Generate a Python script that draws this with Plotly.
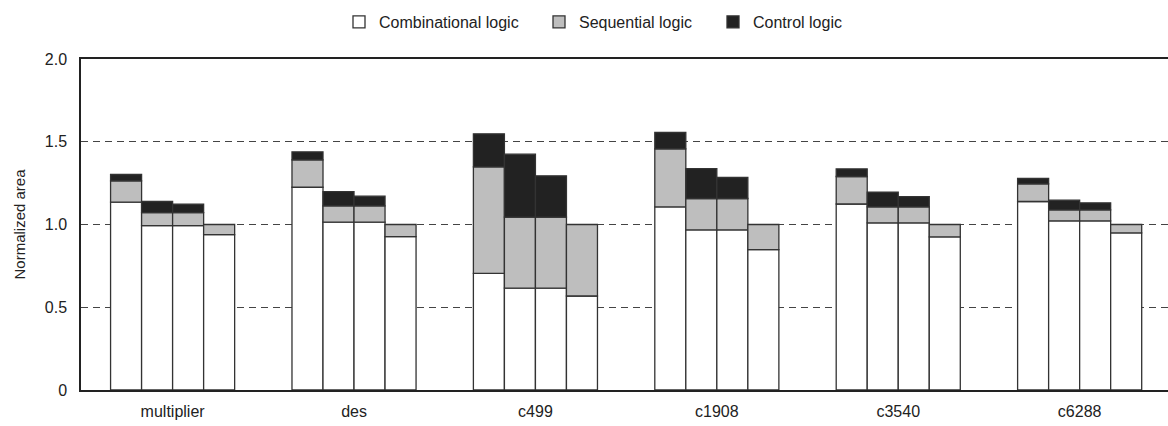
import plotly.graph_objects as go

# ---- data ----
categories = ["multiplier", "des", "c499", "c1908", "c3540", "c6288"]
series_names = ["Combinational logic", "Sequential logic", "Control logic"]

# four bars per category, values per bar
combinational = [
    [1.135, 0.993, 0.993, 0.939],
    [1.225, 1.014, 1.014, 0.927],
    [0.705, 0.615, 0.615, 0.568],
    [1.106, 0.967, 0.967, 0.848],
    [1.124, 1.010, 1.010, 0.925],
    [1.139, 1.022, 1.022, 0.949],
]
sequential = [
    [0.129, 0.079, 0.079, 0.061],
    [0.166, 0.098, 0.098, 0.073],
    [0.643, 0.429, 0.429, 0.432],
    [0.351, 0.190, 0.190, 0.152],
    [0.166, 0.096, 0.096, 0.075],
    [0.106, 0.066, 0.066, 0.051],
]
control = [
    [0.038, 0.067, 0.051, 0.0],
    [0.048, 0.087, 0.059, 0.0],
    [0.200, 0.381, 0.250, 0.0],
    [0.099, 0.181, 0.127, 0.0],
    [0.046, 0.089, 0.063, 0.0],
    [0.033, 0.059, 0.043, 0.0],
]
y_tick_vals = [0, 0.5, 1.0, 1.5, 2.0]
y_tick_text = ["0", "0.5", "1.0", "1.5", "2.0"]

# ---- layout constants ----
BAR_W = 0.171
fills = ["#ffffff", "#bebebe", "#222222"]
FONT = "Liberation Sans, Arial, Helvetica, sans-serif"
W, H = 1168, 426
legend_text_x = [379, 579, 753]   # px where each legend label starts
legend_names = ["legend", "legend2", "legend3"]

xs = []
for i in range(len(categories)):
    for j in range(4):
        xs.append(i + (j - 1.5) * BAR_W)

fig = go.Figure()
for name, data, color, lg in zip(series_names, [combinational, sequential, control], fills, legend_names):
    vals = [v if v > 0 else None for row in data for v in row]
    fig.add_trace(go.Bar(
        x=xs, y=vals, name=name, width=BAR_W, legend=lg, showlegend=True,
        marker=dict(color=color, line=dict(color="#333333", width=1.3)),
    ))

legend_layout = {}
for lg, tx in zip(legend_names, legend_text_x):
    legend_layout[lg] = dict(
        orientation="h", xref="container", yref="container",
        x=(tx - 40) / W, xanchor="left", y=1 - 22 / H, yanchor="middle",
        font=dict(size=16), bgcolor="rgba(0,0,0,0)", borderwidth=0,
    )

fig.update_layout(
    width=W, height=H,
    barmode="relative",
    showlegend=True,
    plot_bgcolor="white", paper_bgcolor="white",
    margin=dict(l=81, r=0, t=59, b=36),
    font=dict(family=FONT, size=16, color="#222222"),
    xaxis=dict(
        range=[-0.505, 5.487],
        tickvals=list(range(len(categories))), ticktext=categories,
        showline=True, linecolor="#222222", linewidth=1.5, mirror=True,
        ticks="", showgrid=False, zeroline=False, ticklabelstandoff=6,
    ),
    yaxis=dict(
        range=[0, 2.0],
        tickvals=y_tick_vals, ticktext=y_tick_text,
        showline=True, linecolor="#222222", linewidth=1.5,
        ticks="", showgrid=True, gridcolor="#444444", gridwidth=1,
        griddash="7px,5px", zeroline=False, ticklabelstandoff=9,
        title=dict(text="Normalized area", standoff=16, font=dict(size=15)),
    ),
    **legend_layout,
)

fig.write_html(
    "out.html",
    config={"displayModeBar": False},
    post_script="document.body.style.margin='0';document.body.style.padding='0';",
)
